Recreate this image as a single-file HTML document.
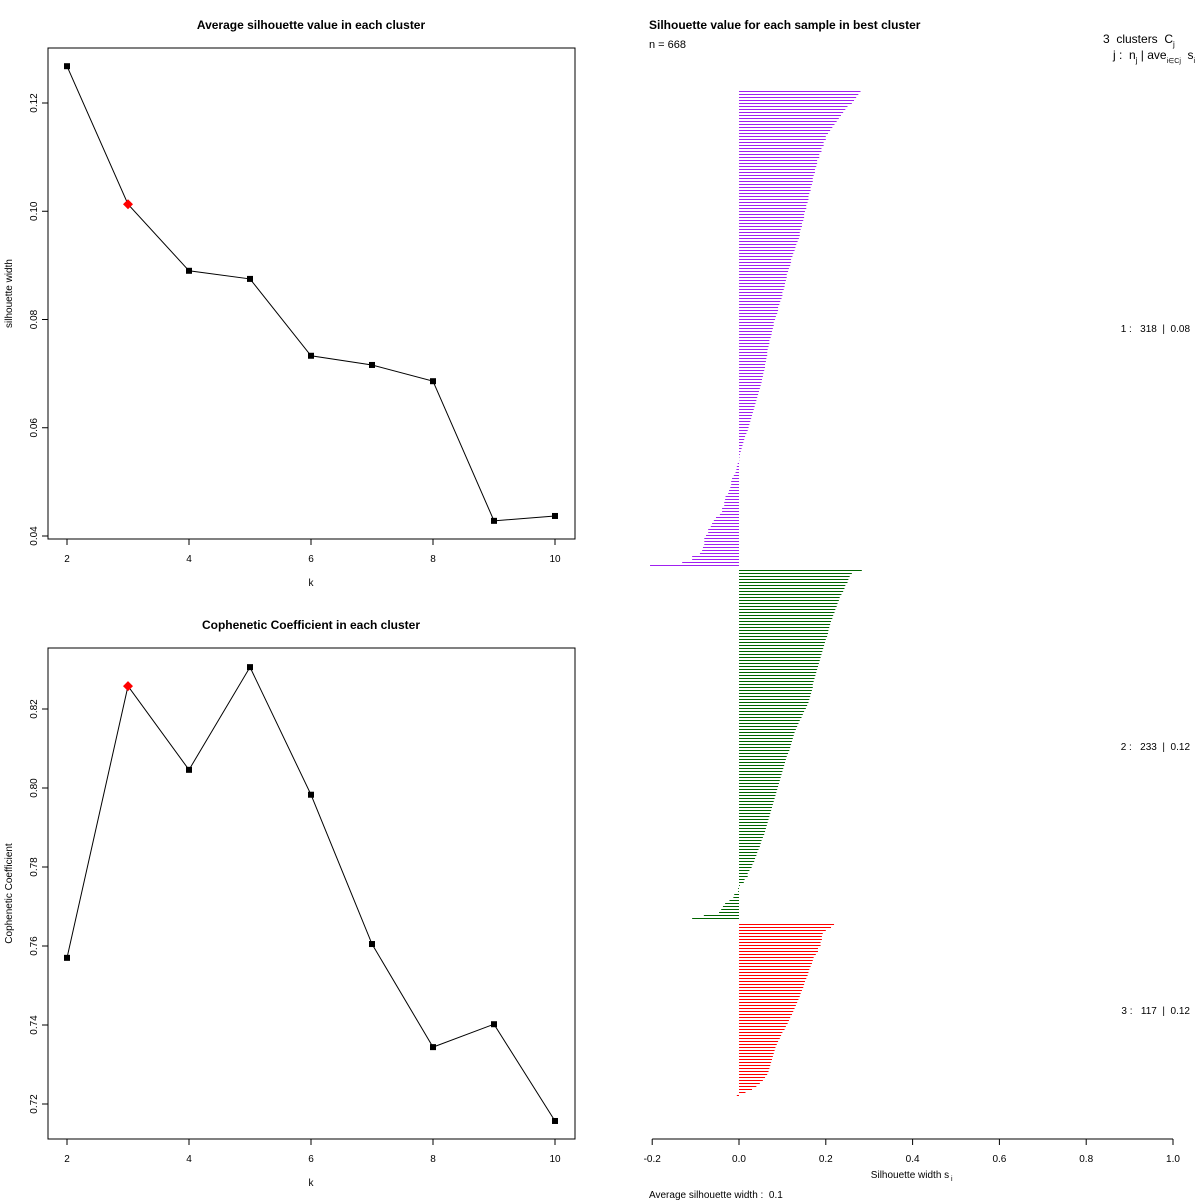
<!DOCTYPE html>
<html><head><meta charset="utf-8"><style>
body{margin:0;background:#fff;}
svg{display:block;font-family:"Liberation Sans",sans-serif;}
.pre{white-space:pre;}
</style></head><body>
<svg id="chart" width="1200" height="1200" viewBox="0 0 1200 1200" xmlns="http://www.w3.org/2000/svg">
<rect width="1200" height="1200" fill="#fff"/>
<g id="p1"></g>
<g id="p2"></g>
<g id="p3">
<text x="1103" y="43" font-size="12" class="pre">3  clusters  C<tspan font-size="8" dy="4">j</tspan></text>
<text x="1113" y="59" font-size="12" class="pre">j :  n<tspan font-size="8" dy="4">j</tspan><tspan dy="-4"> | ave</tspan><tspan font-size="7" dy="4">i∈Cj</tspan><tspan dy="-4">  s</tspan><tspan font-size="7" dy="4">i</tspan></text>
</g>
</svg>
<script>
const kValues = [2,3,4,5,6,7,8,9,10];
const silValues = [0.1268,0.1013,0.089,0.0875,0.0733,0.0716,0.0686,0.0428,0.0437];
const copValues = [0.757,0.8258,0.8046,0.8306,0.7983,0.7605,0.7344,0.7402,0.7157];
const bestK = 3;
const silTicks = [0.04,0.06,0.08,0.10,0.12];
const silTickLabels = ["0.04","0.06","0.08","0.10","0.12"];
const copTicks = [0.72,0.74,0.76,0.78,0.80,0.82];
const copTickLabels = ["0.72","0.74","0.76","0.78","0.80","0.82"];
const kTicks = [2,4,6,8,10];
const swTicks = [-0.2,0,0.2,0.4,0.6,0.8,1.0];
const swTickLabels = ["-0.2","0.0","0.2","0.4","0.6","0.8","1.0"];
const cluster1 = [0.28,0.275,0.27,0.265,0.26,0.25,0.245,0.24,0.235,0.23,0.225,
0.22,0.215,0.21,0.205,0.2,0.2,0.195,0.195,0.19,0.19,
0.185,0.185,0.18,0.18,0.178,0.175,0.175,0.172,0.17,0.17,0.168,0.165,0.165,0.162,0.16,0.16,
0.158,0.155,0.155,0.152,0.15,0.15,0.148,0.145,0.145,0.142,0.14,0.14,0.138,0.135,0.132,0.13,0.128,
0.125,0.123,0.12,0.12,0.118,0.115,0.113,0.11,0.11,0.108,0.106,0.105,0.103,0.1,0.1,0.098,
0.095,0.093,0.09,0.09,0.088,0.085,0.083,0.08,0.08,0.078,0.076,0.075,0.073,0.07,0.07,0.068,0.066,
0.065,0.065,0.063,0.062,0.06,0.06,0.058,0.056,0.055,0.053,0.052,0.05,0.048,0.046,0.044,0.042,0.04,
0.038,0.036,0.034,0.032,0.03,0.028,0.026,0.024,0.022,0.02,0.017,0.014,0.012,0.01,0.008,0.006,0.004,
0.002,0.001,0.0005,
-0.003,-0.005,-0.006,-0.008,-0.012,-0.016,-0.018,-0.018,-0.02,-0.023,-0.025,-0.031,-0.032,-0.034,-0.034,-0.039,-0.039,-0.044,-0.053,-0.058,-0.062,-0.065,-0.071,-0.071,-0.076,-0.08,-0.08,-0.08,-0.083,-0.085,-0.09,-0.108,-0.108,-0.131,-0.205];
const cluster2 = [0.283,
0.26,0.255,0.252,0.25,0.245,0.243,0.24,0.236,0.232,0.23,
0.227,0.225,0.222,0.22,0.217,0.215,0.212,0.21,0.208,0.206,0.205,0.203,0.2,0.198,0.196,0.194,
0.192,0.19,0.188,0.186,0.184,0.182,0.18,0.178,0.176,0.174,0.172,0.17,0.17,0.168,0.166,0.164,0.162,
0.16,0.157,0.154,0.15,0.147,0.144,0.14,0.137,0.134,0.131,0.128,0.126,0.124,0.122,0.12,0.118,0.116,
0.113,0.11,0.108,0.106,0.104,0.102,0.1,0.098,0.096,0.094,0.092,0.09,0.088,0.086,0.084,0.082,0.08,
0.078,0.076,0.074,0.072,0.07,0.068,0.066,0.064,0.062,0.06,0.058,0.055,0.052,0.05,0.048,0.045,0.042,0.04,
0.037,0.035,0.031,0.029,0.024,0.02,0.02,0.013,0.011,0.002,
-0.002,-0.002,-0.011,-0.013,-0.022,-0.032,-0.037,-0.041,-0.046,-0.081,-0.108];
const cluster3 = [0.219,0.212,0.2,0.193,0.191,0.191,0.188,0.188,0.182,0.182,0.177,0.172,
0.17,0.168,0.165,0.162,0.16,0.158,0.155,0.152,0.15,0.148,0.145,0.142,0.14,0.137,0.134,0.131,0.128,0.125,
0.122,0.118,0.115,0.112,0.108,0.105,0.1,0.097,0.094,0.09,0.087,0.084,0.082,0.08,0.078,0.076,
0.074,0.072,0.07,0.068,0.065,0.06,0.055,0.048,0.04,0.03,0.015,-0.005];
const clusterSizes = ["318","233","117"];
const clusterAvg = ["0.08","0.12","0.12"];
const clusterColors = ["#A020F0","#006400","#FF0000"];

const NS="http://www.w3.org/2000/svg";
function mk(parent,tag,attrs,text){const e=document.createElementNS(NS,tag);for(const k in attrs)e.setAttribute(k,attrs[k]);if(text!==undefined)e.textContent=text;parent.appendChild(e);return e;}

function linePanel(g,box,title,ylab,ys,yTicks,yLabels,ymin,ymax){
  const xS=k=>67+(k-2)*61;
  const yS=v=>box.y1-(v-ymin)/(ymax-ymin)*(box.y1-box.y0);
  let t=mk(g,'text',{x:311,y:box.y0-19,'text-anchor':'middle','font-size':12,'font-weight':'bold'},title);
  
  
  let r=mk(g,'rect',{x:48,y:box.y0,width:527,height:box.y1-box.y0,fill:'none',stroke:'#000','stroke-width':1});
  
  
  kTicks.forEach(k=>{
    const l=mk(g,'line',{x1:xS(k),x2:xS(k),y1:box.y1,y2:box.y1+6,stroke:'#000'});
    
    
    const tx=mk(g,'text',{x:xS(k),y:box.y1+23,'text-anchor':'middle','font-size':10},String(k));
    
    
  });
  yTicks.forEach((v,i)=>{
    const y=yS(v);
    const l=mk(g,'line',{x1:42,x2:48,y1:y,y2:y,stroke:'#000'});
    
    
    const tx=mk(g,'text',{x:37,y:y,'text-anchor':'middle','font-size':10,transform:`rotate(-90 37 ${y})`},yLabels[i]);
    
    
  });
  let xl=mk(g,'text',{x:311,y:box.y1+47,'text-anchor':'middle','font-size':10},'k');
  
  
  const cy=(box.y0+box.y1)/2;
  let yl=mk(g,'text',{x:12,y:cy,'text-anchor':'middle','font-size':10,transform:`rotate(-90 12 ${cy})`},ylab);
  
  
  const pts=kValues.map((k,i)=>xS(k)+','+yS(ys[i])).join(' ');
  let pl=mk(g,'polyline',{points:pts,fill:'none',stroke:'#000','stroke-width':1});
  
  
  kValues.forEach((k,i)=>{
    const x=xS(k),y=yS(ys[i]);
    let m;
    if(k===bestK){m=mk(g,'polygon',{points:`${x},${y-5} ${x+5},${y} ${x},${y+5} ${x-5},${y}`,fill:'#f00'});}
    else{m=mk(g,'rect',{x:x-3,y:y-3,width:6,height:6,fill:'#000'});}
    
    
  });
}
const g1=document.getElementById('p1');
linePanel(g1,{y0:48,y1:539},'Average silhouette value in each cluster','silhouette width',silValues,silTicks,silTickLabels,0.04-(539-536)/5412,0.12+(103-48)/5412);
const g2=document.getElementById('p2');
linePanel(g2,{y0:648,y1:1139},'Cophenetic Coefficient in each cluster','Cophenetic Coefficient',copValues,copTicks,copTickLabels,0.72-(1139-1104)/3950,0.82+(709-648)/3950);

const g3=document.getElementById('p3');
const sx=v=>739+v*434;
let tt=mk(g3,'text',{x:649,y:29,'font-size':12,'font-weight':'bold'},'Silhouette value for each sample in best cluster');


let nn=mk(g3,'text',{x:649,y:48,'font-size':11},'n = 668');


const clusters=[cluster1,cluster2,cluster3];
const starts=[91,570,924];
const labelY=[332,750,1014];
clusters.forEach((arr,c)=>{
  arr.forEach((v,i)=>{
    const y=starts[c]+i*3+0.5;
    const l=mk(g3,'line',{x1:sx(0),x2:sx(v),y1:y,y2:y,stroke:clusterColors[c],'stroke-width':1});
    
    
  });
  const t=mk(g3,'text',{x:1190,y:labelY[c],'text-anchor':'end','font-size':10,'class':'pre'},`${c+1} :   ${clusterSizes[c]}  |  ${clusterAvg[c]}`);
  
  
});
let ax=mk(g3,'line',{x1:sx(-0.2),x2:sx(1),y1:1139,y2:1139,stroke:'#000'});


swTicks.forEach((v,i)=>{
  const l=mk(g3,'line',{x1:sx(v),x2:sx(v),y1:1139,y2:1145,stroke:'#000'});
  
  
  const t=mk(g3,'text',{x:sx(v),y:1162,'text-anchor':'middle','font-size':10},swTickLabels[i]);
  
  
});
let xt=mk(g3,'text',{x:910,y:1178,'text-anchor':'middle','font-size':10},'Silhouette width s');


mk(g3,'text',{x:951,y:1181,'font-size':7},'i');
let av=mk(g3,'text',{x:649,y:1198,'font-size':10,'class':'pre'},'Average silhouette width :  0.1');


</script>
</body></html>
